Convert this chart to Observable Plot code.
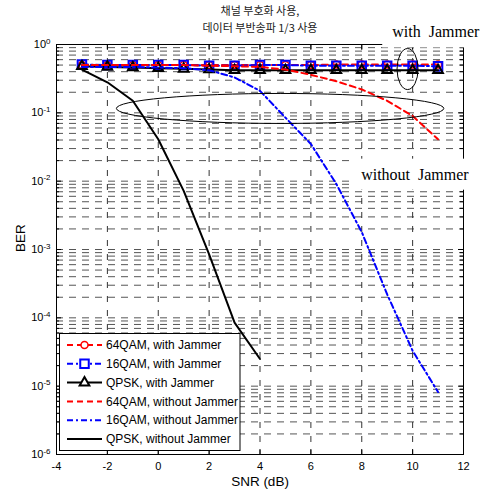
<!DOCTYPE html>
<html><head><meta charset="utf-8">
<script src="https://cdn.jsdelivr.net/npm/d3@7"></script>
<script src="https://cdn.jsdelivr.net/npm/@observablehq/plot@0.6"></script>
<style>
body{margin:0;background:#fff;}
#chart svg{display:block;}
</style></head><body><div id="chart"></div>
<script>
// ---- text ----
const titleLines = ["채널 부호화 사용,", "데이터 부반송파 1/3 사용"];
const xLabel = "SNR (dB)";
const yLabel = "BER";
const legendLabels = ["64QAM, with Jammer", "16QAM, with Jammer", "QPSK, with Jammer",
                      "64QAM, without Jammer", "16QAM, without Jammer", "QPSK, without Jammer"];
const annoTexts = ["with  Jammer", "without  Jammer"];
const annoX = [10.91, 10.09];
const annoY = [1.51, 0.0125];
const ellipseX = [9.82, 4.81];
const ellipseY = [0.43, 0.114];

// ---- ticks ----
const xTicks = [-4, -2, 0, 2, 4, 6, 8, 10, 12];
const yExponents = [-6, -5, -4, -3, -2, -1, 0];

// ---- data ----
const snrJam = [-3, -2, -1, 0, 1, 2, 3, 4, 5, 6, 7, 8, 9, 10, 11];
const ber64Jam   = [0.50, 0.50, 0.50, 0.50, 0.50, 0.50, 0.50, 0.50, 0.50, 0.50, 0.51, 0.51, 0.51, 0.51, 0.51];
const ber16Jam   = [0.51, 0.50, 0.50, 0.50, 0.50, 0.49, 0.49, 0.50, 0.50, 0.49, 0.49, 0.49, 0.49, 0.49, 0.48];
const berQpskJam = [0.48, 0.47, 0.46, 0.45, 0.44, 0.43, 0.42, 0.42, 0.42, 0.42, 0.42, 0.42, 0.42, 0.42, 0.42];

const snr64 = [-3, -2, -1, 0, 1, 2, 3, 4, 5, 6, 7, 8, 9, 10, 11];
const ber64 = [0.50, 0.50, 0.50, 0.50, 0.50, 0.49, 0.48, 0.47, 0.43, 0.36, 0.29, 0.22, 0.15, 0.09, 0.041];
const snr16 = [-3, -2, -1, 0, 1, 2, 3, 4, 5, 6, 7, 8, 9, 10, 11];
const ber16 = [0.47, 0.47, 0.47, 0.46, 0.45, 0.42, 0.33, 0.21, 0.085, 0.035, 9.1e-3, 1.8e-3, 2.2e-4, 3.3e-5, 8.2e-6];
const snrQpsk = [-3, -2, -1, 0, 1, 2, 3, 4];
const berQpsk = [0.43, 0.28, 0.15, 0.041, 7.2e-3, 8.5e-4, 8.5e-5, 2.5e-5];

// ---- layout ----
const W = 493, H = 495, mL = 56, mR = 30, mT = 44, mB = 41;
const pw = W - mL - mR, ph = H - mT - mB;

const majorY = yExponents.map(e => Math.pow(10, e));
const gridY = [];
yExponents.forEach(e => { if (e < 0) for (let k = 1; k <= 9; k++) gridY.push(k * Math.pow(10, e)); });
const minorY = gridY.filter((v, i) => i % 9 !== 0);

const rows = (xs, ys) => xs.map((x, i) => ({x, y: ys[i]}));

const RED = "#ff0000", BLUE = "#0000ff", BLACK = "#000000";
const DASH = "6,4", DASHDOT = "6,3,2,3";

const plot = Plot.plot({
  width: W, height: H,
  marginLeft: mL, marginRight: mR, marginTop: mT, marginBottom: mB,
  style: {fontFamily: "Liberation Sans, Arial, sans-serif", fontSize: "11px", background: "white", overflow: "visible"},
  x: {domain: [-4, 12], label: null},
  y: {type: "log", domain: [1e-6, 1], label: null},
  marks: [
    Plot.ruleY(gridY.filter(v => v > 1e-6), {y: d => d, stroke: "#555", strokeDasharray: "7,6"}),
    Plot.ruleX(xTicks.filter(v => v > -4 && v < 12), {x: d => d, stroke: "#333", strokeDasharray: "6,8"}),
    // with jammer
    Plot.line(rows(snrJam, ber64Jam), {x: "x", y: "y", stroke: RED, strokeWidth: 2, strokeDasharray: DASH}),
    Plot.dot(rows(snrJam, ber64Jam), {x: "x", y: "y", symbol: "circle", r: 3.5, stroke: RED, strokeWidth: 1.5, fill: "none"}),
    Plot.line(rows(snrJam, ber16Jam), {x: "x", y: "y", stroke: BLUE, strokeWidth: 2, strokeDasharray: DASHDOT}),
    Plot.dot(rows(snrJam, ber16Jam), {x: "x", y: "y", symbol: "square", r: 4.8, stroke: BLUE, strokeWidth: 2, fill: "none"}),
    Plot.line(rows(snrJam, berQpskJam), {x: "x", y: "y", stroke: BLACK, strokeWidth: 2}),
    Plot.dot(rows(snrJam, berQpskJam), {x: "x", y: "y", symbol: "triangle", r: 3.6, stroke: BLACK, strokeWidth: 2, fill: "none"}),
    // without jammer
    Plot.line(rows(snr64, ber64), {x: "x", y: "y", stroke: RED, strokeWidth: 2, strokeDasharray: DASH}),
    Plot.line(rows(snr16, ber16), {x: "x", y: "y", stroke: BLUE, strokeWidth: 2, strokeDasharray: DASHDOT}),
    Plot.line(rows(snrQpsk, berQpsk), {x: "x", y: "y", stroke: BLACK, strokeWidth: 2}),
    // ticks (inward, all four sides)
    Plot.tickY(majorY, {y: d => d, insetRight: pw - 5, stroke: BLACK}),
    Plot.tickY(majorY, {y: d => d, insetLeft: pw - 5, stroke: BLACK}),
    Plot.tickY(minorY, {y: d => d, insetRight: pw - 3, stroke: BLACK}),
    Plot.tickY(minorY, {y: d => d, insetLeft: pw - 3, stroke: BLACK}),
    Plot.tickX(xTicks, {x: d => d, insetTop: ph - 5, stroke: BLACK}),
    Plot.tickX(xTicks, {x: d => d, insetBottom: ph - 5, stroke: BLACK}),
    Plot.frame({stroke: BLACK}),
    Plot.axisX({ticks: xTicks, tickSize: 0, tickPadding: 8, tickFormat: d => String(d), label: null, fontSize: 11}),
    Plot.axisY({ticks: majorY, tickSize: 0, tickPadding: 6, tickFormat: d => "10^" + Math.round(Math.log10(d)), label: null, fontSize: 11}),
    Plot.text([titleLines[0]], {frameAnchor: "top", dy: -33, lineAnchor: "middle", fontSize: 11, fontFamily: "Noto Sans CJK KR", fill: "#222"}),
    Plot.text([titleLines[1]], {frameAnchor: "top", dy: -16, lineAnchor: "middle", fontSize: 11, fontFamily: "Noto Sans CJK KR", fill: "#222"}),
    Plot.text([xLabel], {frameAnchor: "bottom", dy: 31, fontSize: 13.5}),
    Plot.text([yLabel], {frameAnchor: "left", dx: -35.5, dy: 2.5, rotate: -90, fontSize: 13.5}),
    Plot.text(annoTexts, {x: (d, i) => annoX[i], y: (d, i) => annoY[i], text: d => d, fontFamily: "Liberation Serif, Times New Roman, serif", fontSize: 16, fill: BLACK})
  ]
});

document.getElementById("chart").appendChild(plot);
const svg = plot.tagName.toLowerCase() === "svg" ? plot : plot.querySelector("svg");

// superscript exponents on y tick labels
svg.querySelectorAll('[aria-label="y-axis tick label"] text').forEach(t => {
  const parts = t.textContent.split("^");
  t.textContent = "";
  d3.select(t).append("tspan").text(parts[0]);
  d3.select(t).append("tspan").attr("dy", "-0.55em").attr("font-size", "8px").text(parts[1]);
});

// white boxes behind annotation texts
svg.querySelectorAll("text").forEach(t => {
  if (annoTexts.includes(t.textContent)) {
    const b = t.getBBox();
    const g = t.parentNode;
    const r = document.createElementNS("http://www.w3.org/2000/svg", "rect");
    r.setAttribute("x", b.x - 10); r.setAttribute("y", b.y - 7);
    r.setAttribute("width", b.width + 20); r.setAttribute("height", b.height + 14);
    r.setAttribute("fill", "white");
    if (t.getAttribute("transform")) r.setAttribute("transform", t.getAttribute("transform"));
    g.insertBefore(r, t);
  }
});

// ellipses
const sx = plot.scale("x"), sy = plot.scale("y");
const ellR = [[10.5, 20.5], [163.7, 15]];
const eg = d3.select(svg).append("g");
ellipseX.forEach((x, i) => {
  eg.append("ellipse").attr("cx", sx.apply(x)).attr("cy", sy.apply(ellipseY[i]))
    .attr("rx", ellR[i][0]).attr("ry", ellR[i][1]).attr("fill", "none").attr("stroke", BLACK).attr("stroke-width", 1);
});

// legend
const lstyles = [
  {stroke: RED, dash: DASH, sym: d3.symbolCircle, r: 3.5, sw: 1.5},
  {stroke: BLUE, dash: DASHDOT, sym: d3.symbolSquare, r: 4.8, sw: 2},
  {stroke: BLACK, dash: null, sym: d3.symbolTriangle, r: 3.6, sw: 2},
  {stroke: RED, dash: DASH},
  {stroke: BLUE, dash: DASHDOT},
  {stroke: BLACK, dash: null}
];
const lg = d3.select(svg).append("g").attr("text-anchor", "start");
lg.append("rect").attr("x", 59.5).attr("y", 333.5).attr("width", 180.5).attr("height", 117)
  .attr("fill", "white").attr("stroke", BLACK);
legendLabels.forEach((lab, i) => {
  const s = lstyles[i];
  const y = 345 + i * 18.8;
  const ln = lg.append("line").attr("x1", 67).attr("x2", 102).attr("y1", y).attr("y2", y)
    .attr("stroke", s.stroke).attr("stroke-width", 2);
  if (s.dash) ln.attr("stroke-dasharray", s.dash);
  if (s.sym) {
    lg.append("path").attr("d", d3.symbol(s.sym, Math.PI * s.r * s.r)())
      .attr("transform", `translate(84.5,${y})`).attr("fill", "white").attr("stroke", s.stroke).attr("stroke-width", s.sw);
  }
  lg.append("text").attr("x", 106).attr("y", y).attr("dy", "0.35em").attr("text-anchor", "start")
    .attr("font-size", 12).attr("fill", BLACK).text(lab);
});
</script>
</body></html>
